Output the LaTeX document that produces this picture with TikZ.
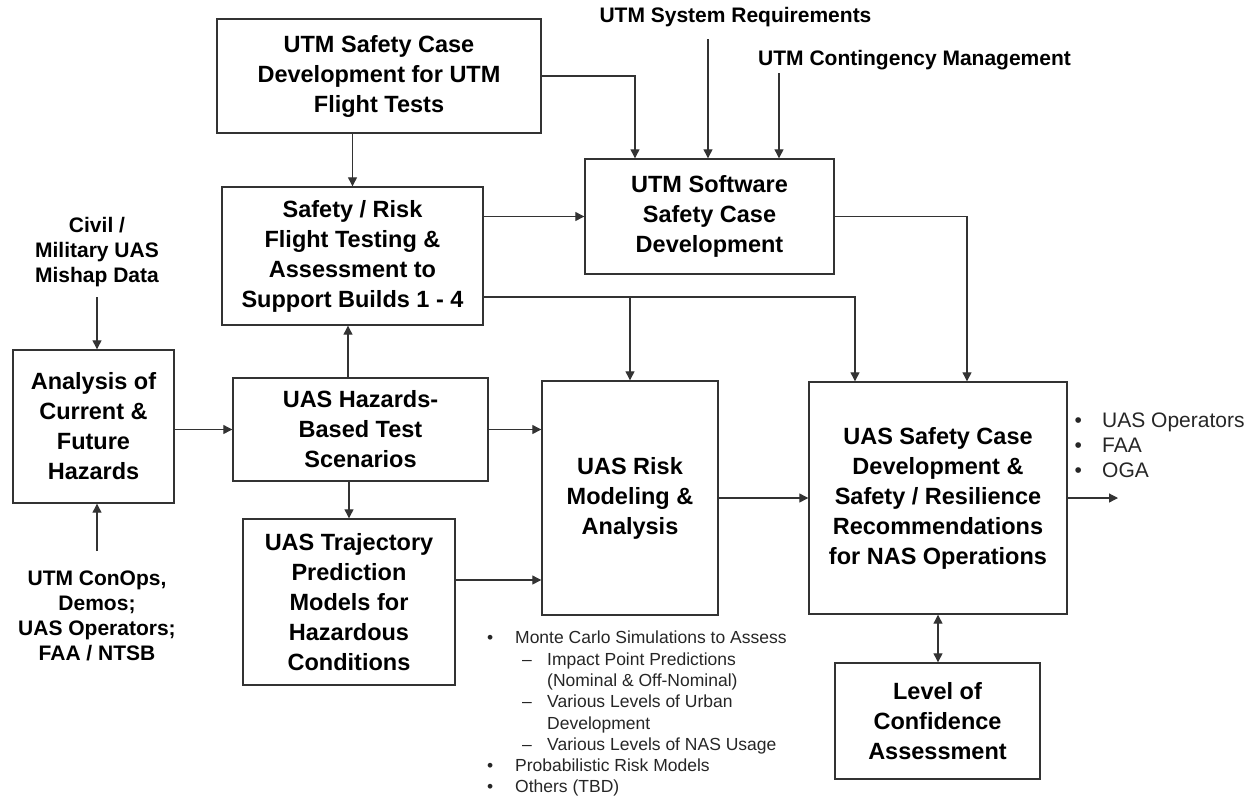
\documentclass[tikz,border=0pt]{standalone}
\usepackage{fontspec}
\setmainfont{Liberation Sans}
\usetikzlibrary{arrows.meta}
\definecolor{linegray}{HTML}{333333}
\begin{document}
\begin{tikzpicture}[x=1pt,y=-1pt,
  box/.style={draw=linegray, line width=1.4pt, inner sep=0pt, align=center,
    font=\fontsize{23.5}{30}\selectfont\bfseries},
  lbl/.style={inner sep=0pt, align=center, font=\fontsize{21}{25}\selectfont\bfseries},
  note/.style={inner sep=0pt, align=left, text=black!85},
  arr/.style={draw=linegray, line width=1.2pt, -{Triangle[length=9pt,width=9pt]}},
  twoway/.style={draw=linegray, line width=1.2pt, {Triangle[length=9pt,width=9pt]}-{Triangle[length=9pt,width=9pt]}},
]
\useasboundingbox (0,0) rectangle (1255,796);

% process boxes
\node[box, minimum width=324pt, minimum height=114pt] (A) at (379,76)
  {UTM Safety Case\\Development for UTM\\Flight Tests};
\node[box, minimum width=261pt, minimum height=138pt] (B) at (352.5,256)
  {Safety / Risk\\Flight Testing \&\\Assessment to\\Support Builds 1 - 4};
\node[box, minimum width=249pt, minimum height=115pt] (C) at (709.5,216.5)
  {UTM Software\\Safety Case\\Development};
\node[box, minimum width=161pt, minimum height=153pt] (D) at (93.5,426.5)
  {Analysis of\\Current \&\\Future\\Hazards};
\node[box, minimum width=255pt, minimum height=103pt] (E) at (360.5,429.5)
  {UAS Hazards-\\Based Test\\Scenarios};
\node[box, minimum width=212pt, minimum height=166pt] (F) at (349,602)
  {UAS Trajectory\\Prediction\\Models for\\Hazardous\\Conditions};
\node[box, minimum width=176pt, minimum height=234pt] (G) at (630,498)
  {UAS Risk\\Modeling \&\\Analysis};
\node[box, minimum width=258pt, minimum height=232pt] (H) at (938,498)
  {UAS Safety Case\\Development \&\\Safety / Resilience\\Recommendations\\for NAS Operations};
\node[box, minimum width=205pt, minimum height=116pt] (I) at (937.5,721)
  {Level of\\Confidence\\Assessment};

% input labels
\node[lbl] (SR) at (735.5,17) {UTM System Requirements};
\node[lbl, anchor=west] (CM) at (758,60) {UTM Contingency Management};
\node[lbl] (MD) at (97,252) {Civil /\\Military UAS\\Mishap Data};
\node[lbl] (CO) at (97,616) {UTM ConOps,\\Demos;\\UAS Operators;\\FAA / NTSB};

% recipients of the recommendations
\node[note, anchor=north west, font=\fontsize{21}{25}\selectfont] (OUT) at (1074.5,413)
  {\makebox[27.5pt][l]{•}UAS Operators\\
   \makebox[27.5pt][l]{•}FAA\\
   \makebox[27.5pt][l]{•}OGA};

% risk modeling methods
\node[note, anchor=north west, font=\fontsize{17.5}{21.3}\selectfont] (MC) at (487,631)
  {\makebox[28pt][l]{•}Monte Carlo Simulations to Assess\\
   \hspace*{35pt}\makebox[25pt][l]{–}Impact Point Predictions\\
   \hspace*{60pt}(Nominal \& Off-Nominal)\\
   \hspace*{35pt}\makebox[25pt][l]{–}Various Levels of Urban\\
   \hspace*{60pt}Development\\
   \hspace*{35pt}\makebox[25pt][l]{–}Various Levels of NAS Usage\\
   \makebox[28pt][l]{•}Probabilistic Risk Models\\
   \makebox[28pt][l]{•}Others (TBD)};

% free ends of connectors
\coordinate (srT) at (708,39);
\coordinate (cmT) at (779,73);
\coordinate (mdT) at (97,297);
\coordinate (coT) at (97,551);
\coordinate (outT) at (1118,498);
\coordinate (rail) at ([yshift=-41pt]B.east);

% connectors
\draw[arr] (A.east) -| ([xshift=-74.5pt]C.north);
\draw[arr] (srT) -- (srT |- C.north);
\draw[arr] (cmT) -- (cmT |- C.north);
\draw[arr] (A.south -| B.north) -- (B.north);
\draw[arr] (B.east |- C.west) -- (C.west);
\draw[arr] (C.east) -| ([xshift=29pt]H.north);
\draw[arr] (rail) -| ([xshift=-83pt]H.north);
\draw[arr] (rail -| G.north) -- (G.north);
\draw[arr] (D.east |- E.west) -- (E.west);
\draw[arr] ([xshift=-12.5pt]E.north) -- ([xshift=-12.5pt]E.north |- B.south);
\draw[arr] (E.south -| F.north) -- (F.north);
\draw[arr] (E.east) -- (E.east -| G.west);
\draw[arr] ([yshift=22pt]F.east) -- ([yshift=22pt]F.east -| G.west);
\draw[arr] (G.east) -- (H.west);
\draw[arr] (H.east) -- (outT);
\draw[twoway] (H.south) -- (H.south |- I.north);
\draw[arr] (mdT) -- (mdT |- D.north);
\draw[arr] (coT) -- (coT |- D.south);
\end{tikzpicture}
\end{document}
